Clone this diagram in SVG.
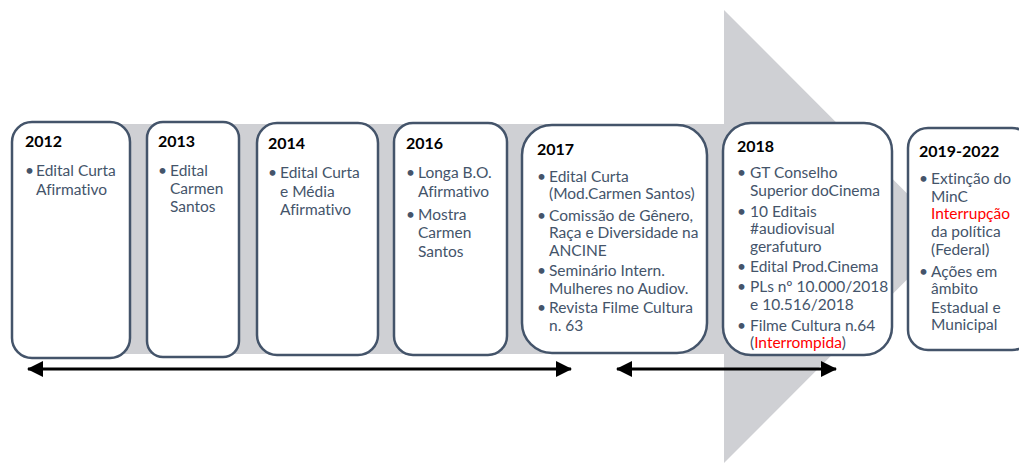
<svg xmlns="http://www.w3.org/2000/svg" width="1019" height="463" viewBox="0 0 1019 463">
  <style>
    .box { fill: #ffffff; stroke: #44546A; stroke-width: 2.5; }
    .yr { font-family: Lato, "Liberation Sans", sans-serif; font-weight: bold; font-size: 16px; fill: #000000; }
    .tx { font-family: Lato, "Liberation Sans", sans-serif; font-size: 15.5px; fill: #44546A; font-variant-ligatures: none; }
    .red { fill: #FF0000; }
    .conn { stroke: #000000; stroke-width: 3; fill: none; }
  </style>
  <defs>
    <marker id="head" viewBox="0 0 16 16" refX="15" refY="8" markerWidth="16" markerHeight="16" markerUnits="userSpaceOnUse" orient="auto-start-reverse">
      <path d="M0,0 L16,8 L0,16 Z" fill="#000000"/>
    </marker>
  </defs>

  <!-- big background arrow -->
  <polygon points="20,124 724,124 724,10 950,236.5 724,463 724,354 20,354" fill="#CFD0D4"/>

  <g id="node-2012">
    <rect class="box" x="12" y="122" width="118" height="236" rx="20"/>
    <text class="yr" x="25" y="147">2012</text>
    <text class="tx"><tspan x="25" y="176">•</tspan><tspan x="36" y="176">Edital Curta</tspan><tspan x="36" y="195">Afirmativo</tspan></text>
  </g>

  <g id="node-2013">
    <rect class="box" x="147" y="122" width="92" height="235" rx="16"/>
    <text class="yr" x="158" y="147">2013</text>
    <text class="tx"><tspan x="158" y="176">•</tspan><tspan x="170" y="176">Edital</tspan><tspan x="170" y="194">Carmen</tspan><tspan x="170" y="212">Santos</tspan></text>
  </g>

  <g id="node-2014">
    <rect class="box" x="257" y="123" width="121" height="232" rx="20"/>
    <text class="yr" x="268" y="149">2014</text>
    <text class="tx"><tspan x="268" y="178">•</tspan><tspan x="280" y="178">Edital Curta</tspan><tspan x="280" y="197">e Média</tspan><tspan x="280" y="215">Afirmativo</tspan></text>
  </g>

  <g id="node-2016">
    <rect class="box" x="394" y="123" width="113" height="232" rx="19"/>
    <text class="yr" x="406" y="149">2016</text>
    <text class="tx"><tspan x="406" y="178">•</tspan><tspan x="418" y="178">Longa B.O.</tspan><tspan x="418" y="197">Afirmativo</tspan><tspan x="406" y="220">•</tspan><tspan x="418" y="220">Mostra</tspan><tspan x="418" y="238">Carmen</tspan><tspan x="418" y="257">Santos</tspan></text>
  </g>

  <g id="node-2017">
    <rect class="box" x="522" y="125" width="185" height="228" rx="30"/>
    <text class="yr" x="537" y="155">2017</text>
    <text class="tx"><tspan x="537" y="182">•</tspan><tspan x="549" y="182">Edital Curta</tspan><tspan x="549" y="199">(Mod.Carmen Santos)</tspan><tspan x="537" y="221">•</tspan><tspan x="549" y="221">Comissão de Gênero,</tspan><tspan x="549" y="238">Raça e Diversidade na</tspan><tspan x="549" y="256">ANCINE</tspan><tspan x="537" y="276">•</tspan><tspan x="549" y="276">Seminário Intern.</tspan><tspan x="549" y="294">Mulheres no Audiov.</tspan><tspan x="537" y="313">•</tspan><tspan x="549" y="313">Revista Filme Cultura</tspan><tspan x="549" y="331">n. 63</tspan></text>
  </g>

  <g id="node-2018">
    <rect class="box" x="723" y="123" width="169" height="232" rx="28"/>
    <text class="yr" x="737" y="152">2018</text>
    <text class="tx"><tspan x="737" y="178">•</tspan><tspan x="750" y="178">GT Conselho</tspan><tspan x="750" y="196">Superior doCinema</tspan><tspan x="737" y="217">•</tspan><tspan x="750" y="217">10 Editais</tspan><tspan x="750" y="234">#audiovisual</tspan><tspan x="750" y="252">gerafuturo</tspan><tspan x="737" y="272">•</tspan><tspan x="750" y="272">Edital Prod.Cinema</tspan><tspan x="737" y="292">•</tspan><tspan x="750" y="292">PLs nº 10.000/2018</tspan><tspan x="750" y="310">e 10.516/2018</tspan><tspan x="737" y="331">•</tspan><tspan x="750" y="331">Filme Cultura n.64</tspan><tspan x="750" y="348">(<tspan class="red">Interrompida</tspan>)</tspan></text>
  </g>

  <g id="node-2019-2022">
    <rect class="box" x="908" y="128" width="124" height="222" rx="20"/>
    <text class="yr" x="919" y="157">2019-2022</text>
    <text class="tx"><tspan x="919" y="184">•</tspan><tspan x="931" y="184">Extinção do</tspan><tspan x="931" y="202">MinC</tspan><tspan x="931" y="219" class="red">Interrupção</tspan><tspan x="931" y="237">da política</tspan><tspan x="931" y="255">(Federal)</tspan><tspan x="919" y="277">•</tspan><tspan x="931" y="277">Ações em</tspan><tspan x="931" y="294">âmbito</tspan><tspan x="931" y="313">Estadual e</tspan><tspan x="931" y="330">Municipal</tspan></text>
  </g>

  <g id="connectors">
    <line class="conn" x1="28" y1="369" x2="571" y2="369" marker-start="url(#head)" marker-end="url(#head)"/>
    <line class="conn" x1="617" y1="369" x2="836" y2="369" marker-start="url(#head)" marker-end="url(#head)"/>
  </g>
</svg>
